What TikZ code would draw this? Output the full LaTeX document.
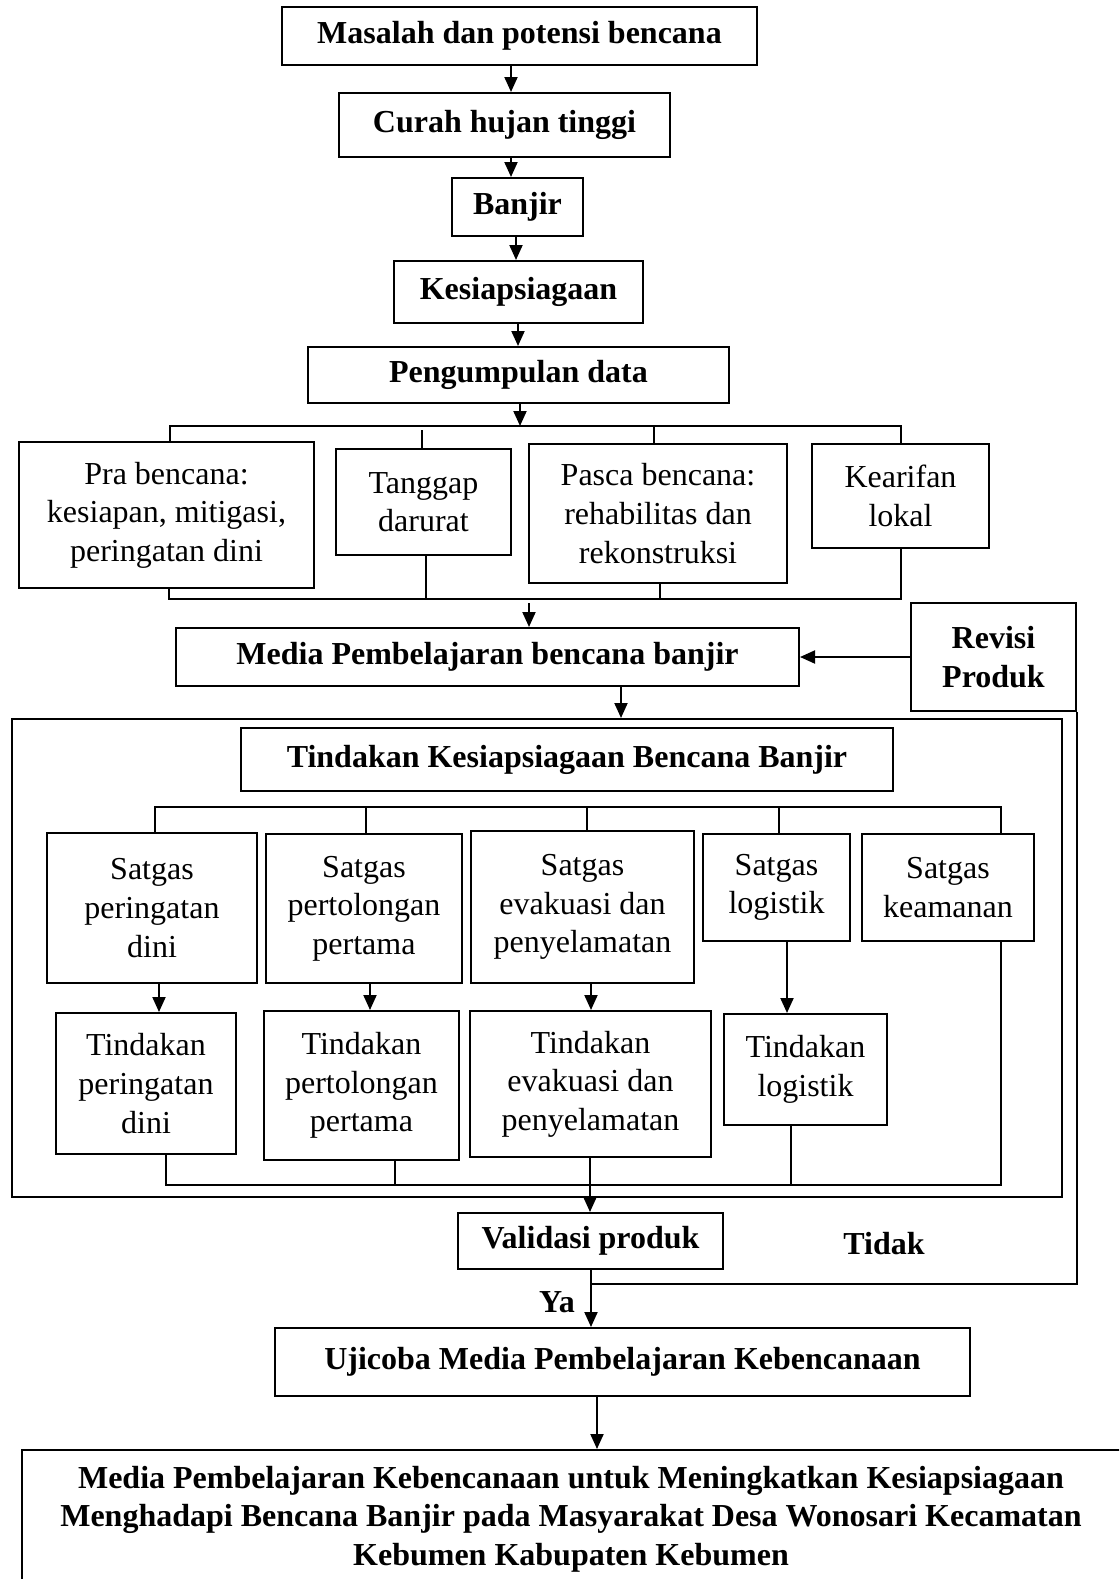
\documentclass[tikz,border=0pt]{standalone}
\usepackage{fontspec}
\setmainfont{Liberation Serif}
\usetikzlibrary{arrows.meta,calc}
\tikzset{
  bx/.style={draw, line width=1pt, inner sep=0pt, align=center, font=\fontsize{16}{19.3}\selectfont},
  bxb/.style={bx, font=\fontsize{16}{19.3}\selectfont\bfseries},
  lbl/.style={inner sep=0pt, align=center, font=\fontsize{16}{19.3}\selectfont\bfseries},
  ln/.style={line width=0.7pt},
  arr/.style={line width=1pt, -{Triangle[length=7.5pt,width=6.5pt]}},
}
% \bxn{name}{x1}{y1}{x2}{y2}{style}{text}
\newcommand{\bxn}[7]{\node[#6, minimum width={(#4-#2)*0.5pt}, minimum height={(#5-#3)*0.5pt}] (#1) at ({(#2+#4)/2},{(#3+#5)/2}) {#7};}
\begin{document}
\begin{tikzpicture}[x=0.5pt,y=-0.5pt]
\useasboundingbox (0,0) rectangle (1119,1579);
\clip (0,0) rectangle (1119,1579);
% top chain
\bxn{m1}{282}{7}{757}{65}{bxb}{Masalah dan potensi bencana}
\bxn{m2}{339}{93}{670}{157}{bxb}{Curah hujan tinggi}
\bxn{m3}{452}{178}{583}{236}{bxb}{Banjir}
\bxn{m4}{394}{261}{643}{323}{bxb}{Kesiapsiagaan}
\bxn{m5}{308}{347}{729}{403}{bxb}{Pengumpulan data}
% data boxes
\bxn{p1}{19}{442}{314}{588}{bx}{Pra bencana:\\kesiapan, mitigasi,\\peringatan dini}
\bxn{p2}{336}{449}{511}{555}{bx}{Tanggap\\darurat}
\bxn{p3}{529}{444}{787}{583}{bx}{Pasca bencana:\\rehabilitas dan\\rekonstruksi}
\bxn{p4}{812}{444}{989}{548}{bx}{Kearifan\\lokal}
% media
\bxn{media}{176}{628}{799}{686}{bxb}{Media Pembelajaran bencana banjir}
\bxn{revisi}{911}{603}{1076}{711}{bxb}{Revisi\\Produk}
% frame
\bxn{frame}{12}{719}{1062}{1197}{bx}{}
\bxn{tk}{241}{728}{893}{791}{bxb}{Tindakan Kesiapsiagaan Bencana Banjir}
\bxn{s1}{47}{833}{257}{983}{bx}{Satgas\\peringatan\\dini}
\bxn{s2}{266}{834}{462}{983}{bx}{Satgas\\pertolongan\\pertama}
\bxn{s3}{471}{831}{694}{983}{bx}{Satgas\\evakuasi dan\\penyelamatan}
\bxn{s4}{703}{834}{850}{941}{bx}{Satgas\\logistik}
\bxn{s5}{862}{834}{1034}{941}{bx}{Satgas\\keamanan}
\bxn{t1}{56}{1013}{236}{1154}{bx}{Tindakan\\peringatan\\dini}
\bxn{t2}{264}{1011}{459}{1160}{bx}{Tindakan\\pertolongan\\pertama}
\bxn{t3}{470}{1011}{711}{1157}{bx}{Tindakan\\evakuasi dan\\penyelamatan}
\bxn{t4}{724}{1014}{887}{1125}{bx}{Tindakan\\logistik}
% validation
\bxn{val}{458}{1213}{723}{1269}{bxb}{Validasi produk}
\node[lbl] (tidak) at (884,1244) {Tidak};
\node[lbl] (ya) at (557,1302) {Ya};
\bxn{uji}{275}{1328}{970}{1396}{bxb}{Ujicoba Media Pembelajaran Kebencanaan}
\bxn{final}{22}{1450}{1125}{1640}{bx}{}
\node[lbl] (ftext) at (571,1519) {Media Pembelajaran Kebencanaan untuk Meningkatkan Kesiapsiagaan\\Menghadapi Bencana Banjir pada Masyarakat Desa Wonosari Kecamatan\\Kebumen Kabupaten Kebumen};
% connectors top
\coordinate (c1) at (511,0);
\coordinate (c2) at (516,0);
\coordinate (c3) at (518,0);
\draw[arr] (m1.south -| c1) -- (m2.north -| c1);
\draw[arr] (m2.south -| c1) -- (m3.north -| c1);
\draw[arr] (m3.south -| c2) -- (m4.north -| c2);
\draw[arr] (m4.south -| c3) -- (m5.north -| c3);
\coordinate (b1) at (520,426);
\draw[arr] (m5.south -| b1) -- (b1);
\coordinate (b1l) at (170,426);
\coordinate (b1r) at (901,426);
\coordinate (b1a) at (422,430);
\coordinate (b1c) at (654,426);
\draw[ln] (b1l |- p1.north) -- (b1l) -- (b1r) -- (b1r |- p4.north);
\draw[ln] (b1a) -- (b1a |- p2.north);
\draw[ln] (b1c) -- (b1c |- p3.north);
\coordinate (b2l) at (169,599);
\coordinate (b2r) at (901,599);
\coordinate (b2a) at (426,599);
\coordinate (b2b) at (660,599);
\draw[ln] (p1.south -| b2l) -- (b2l) -- (b2r) -- (p4.south -| b2r);
\draw[ln] (p2.south -| b2a) -- (b2a);
\draw[ln] (p3.south -| b2b) -- (b2b);
\coordinate (c4) at (529,603);
\draw[arr] (c4) -- (c4 |- media.north);
\draw[arr] (revisi.west) -- (revisi.west -| media.east);
\coordinate (c5) at (621,0);
\draw[arr] (media.south -| c5) -- (frame.north -| c5);
% inside frame
\coordinate (b3l) at (155,807);
\coordinate (b3r) at (1001,807);
\coordinate (b3a) at (366,807);
\coordinate (b3b) at (587,807);
\coordinate (b3c) at (779,807);
\draw[ln] (b3l |- s1.north) -- (b3l) -- (b3r) -- (b3r |- s5.north);
\draw[ln] (b3a) -- (b3a |- s2.north);
\draw[ln] (b3b) -- (b3b |- s3.north);
\draw[ln] (b3c) -- (b3c |- s4.north);
\coordinate (d1) at (159,0);
\coordinate (d2) at (370,0);
\coordinate (d3) at (591,0);
\coordinate (d4) at (787,0);
\draw[arr] (s1.south -| d1) -- (t1.north -| d1);
\draw[arr] (s2.south -| d2) -- (t2.north -| d2);
\draw[arr] (s3.south -| d3) -- (t3.north -| d3);
\draw[arr] (s4.south -| d4) -- (t4.north -| d4);
\coordinate (b4l) at (166,1185);
\coordinate (b4r) at (1001,1185);
\coordinate (b4a) at (395,1185);
\coordinate (b4b) at (791,1185);
\draw[ln] (t1.south -| b4l) -- (b4l) -- (b4r) -- (s5.south -| b4r);
\draw[ln] (t2.south -| b4a) -- (b4a);
\draw[ln] (t4.south -| b4b) -- (b4b);
\coordinate (e1) at (590,0);
\draw[arr] (t3.south -| e1) -- (val.north -| e1);
% loop and bottom
\coordinate (lp) at (591,1284);
\draw[ln] (revisi.south east) -- (revisi.south east |- lp) -- (lp);
\draw[arr] (val.south -| lp) -- (uji.north -| lp);
\coordinate (c6) at (597,0);
\draw[arr] (uji.south -| c6) -- (final.north -| c6);
\end{tikzpicture}
\end{document}
